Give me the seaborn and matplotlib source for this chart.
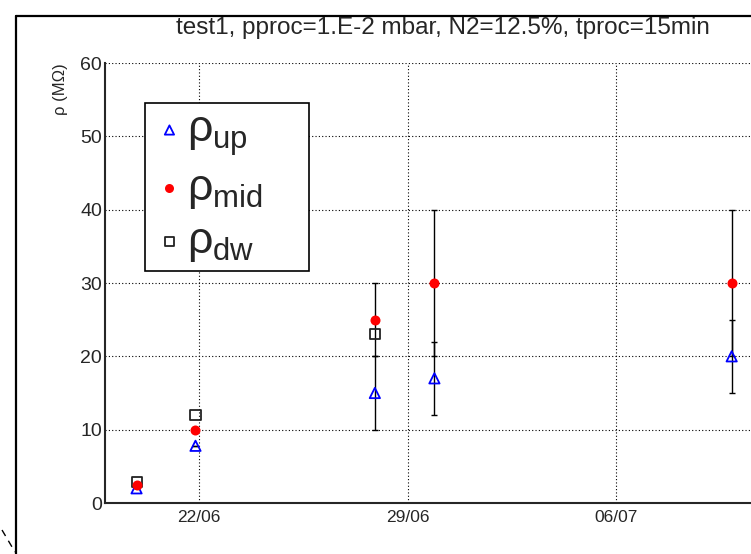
import pandas as pd
import matplotlib.pyplot as plt
import matplotlib.dates as mdates
import seaborn as sns
from matplotlib.lines import Line2D

dates = pd.to_datetime(['2015-06-19 21:30', '2015-06-21 21:00', '2015-06-27 21:30',
                        '2015-06-29 21:30', '2015-07-09 21:00'])
rho_up = [2.0, 7.8, 15.0, 17.0, 20.0]
err_up = [0, 0, 5, 5, 5]
rho_mid = [2.5, 10.0, 25.0, 30.0, 30.0]
err_mid = [0, 0, 5, 10, 10]
dates_dw = dates[:3]
rho_dw = [2.8, 12.0, 23.0]

x_ticks = pd.to_datetime(['2015-06-22', '2015-06-29', '2015-07-06'])
x_start = pd.Timestamp('2015-06-22') - pd.Timedelta(days=3.163)
x_end = pd.Timestamp('2015-06-22') + pd.Timedelta(days=19.9)

title = 'test1, pproc=1.E-2 mbar, N2=12.5%, tproc=15min'

sns.set_style('white')
plt.rcParams['font.family'] = ['Liberation Sans', 'DejaVu Sans']
plt.rcParams['mathtext.fontset'] = 'custom'
plt.rcParams['mathtext.rm'] = 'Liberation Sans'
plt.rcParams['mathtext.it'] = 'Liberation Sans'

fig = plt.figure(figsize=(7.51, 5.54), dpi=100)
W, H = 751, 554
ax = fig.add_axes([105 / W, 1 - 503 / H, (792 - 105) / W, (503 - 63) / H])

# 바깥 프레임
fig.add_artist(Line2D([16 / W, 16 / W], [0, 1 - 16 / H], color='black', lw=1.6, transform=fig.transFigure))
fig.add_artist(Line2D([16 / W, 1], [1 - 16 / H, 1 - 16 / H], color='black', lw=1.6, transform=fig.transFigure))
fig.add_artist(Line2D([2 / W, 15 / W], [1 - 530 / H, 1 - 552 / H], color='black', lw=1.0,
                      linestyle=(0, (5, 4)), transform=fig.transFigure))

# 오차 막대
ax.errorbar(dates, rho_mid, yerr=err_mid, fmt='none', ecolor='black', elinewidth=1.0, capsize=2.2, zorder=2)
ax.errorbar(dates, rho_up, yerr=err_up, fmt='none', ecolor='black', elinewidth=1.0, capsize=2.2, zorder=2)

# 점
sns.scatterplot(x=dates, y=rho_up, marker='^', s=55, facecolor='none', edgecolor='blue',
                linewidth=1.3, label=r'$\rho_{up}$', ax=ax, zorder=4)
sns.scatterplot(x=dates, y=rho_mid, marker='o', s=52, color='red', edgecolor='red',
                linewidth=0, label=r'$\rho_{mid}$', ax=ax, zorder=5)
sns.scatterplot(x=dates_dw, y=rho_dw, marker='s', s=52, facecolor='none', edgecolor='#222222',
                linewidth=1.3, label=r'$\rho_{dw}$', ax=ax, zorder=3)

ax.set_xlim(x_start, x_end)
ax.set_ylim(0, 60)
ax.set_xticks(x_ticks)
ax.xaxis.set_major_formatter(mdates.DateFormatter('%d/%m'))
ax.set_yticks(range(0, 61, 10))
ax.set_yticks(range(0, 61, 2), minor=True)

ax.tick_params(axis='y', which='major', direction='in', length=9.4, width=1.0, labelsize=14, pad=2)
ax.tick_params(axis='y', which='minor', direction='in', length=5.5, width=1.0)
ax.tick_params(axis='x', which='major', direction='in', length=9.4, width=1.0, labelsize=12.5, pad=5)

for side in ['top', 'right']:
    ax.spines[side].set_visible(False)
ax.spines['left'].set_linewidth(1.5)
ax.spines['bottom'].set_linewidth(1.5)

ax.grid(True, which='major', color='black', linestyle=(0, (1, 2)), linewidth=0.8)
ax.set_axisbelow(True)

ax.set_xlabel('')
ax.set_ylabel('ρ (MΩ)', fontsize=12, loc='top', labelpad=9)

fig.text(443 / W, 1 - 28 / H, title, fontsize=17.5, ha='center', va='center')

leg = ax.legend(loc='upper left', mode='expand',
                bbox_to_anchor=(145 / W, 1 - 269 / H, 164 / W, 166 / H), bbox_transform=fig.transFigure,
                fontsize=32, frameon=True, fancybox=False, framealpha=1, edgecolor='black',
                borderpad=0.15, labelspacing=0.23, handletextpad=0.0, handlelength=0.8,
                markerscale=0.9, borderaxespad=0)
leg.get_frame().set_linewidth(1.2)

plt.savefig('out.png', dpi=100)
